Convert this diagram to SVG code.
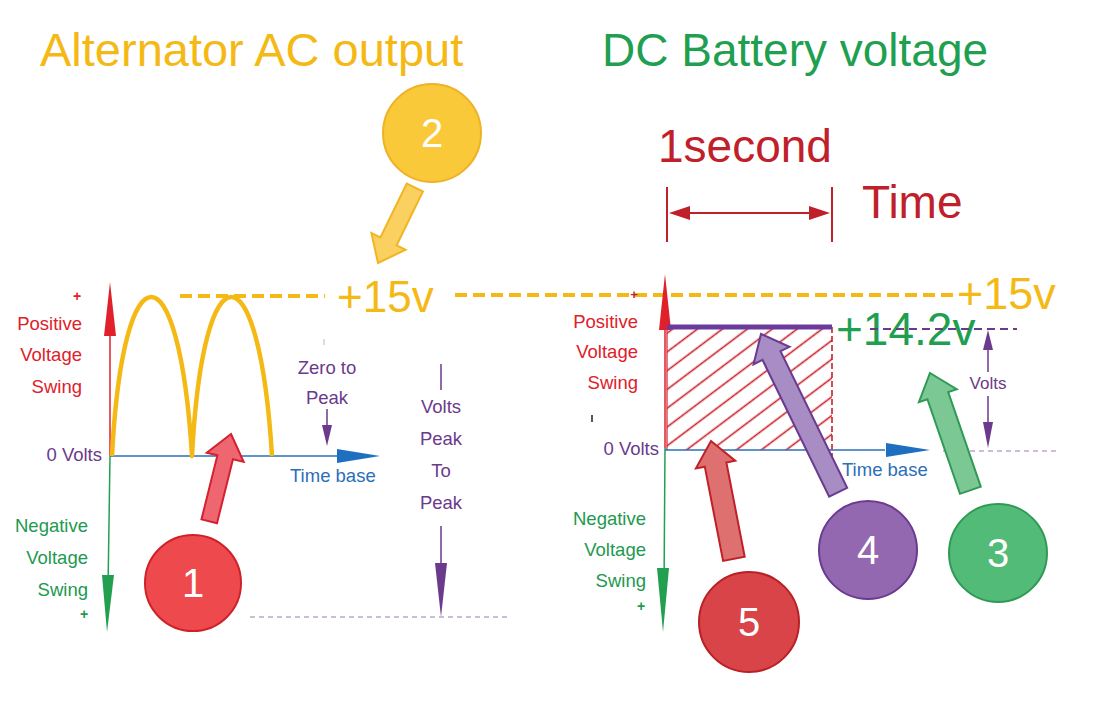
<svg xmlns="http://www.w3.org/2000/svg" width="1094" height="703" viewBox="0 0 1094 703">
<defs>
<style>
text{font-family:"Liberation Sans",Arial,sans-serif}
.title{font-size:46px}
.lbl{font-size:18.5px}
.red{fill:#E0202A}
.grn{fill:#22994F}
.pur{fill:#6B3A8C}
.blu{fill:#2A6FB8}
.num{font-size:40px;fill:#fff;text-anchor:middle}
.ydash{stroke:#F5B915;stroke-width:4;stroke-dasharray:12,6;fill:none}
.gdash{stroke:#9A7AAE;stroke-width:1.2;stroke-dasharray:5,4;fill:none}
</style>
<pattern id="hatch" patternUnits="userSpaceOnUse" width="20" height="15" patternTransform="rotate(-37)">
<line x1="0" y1="7.5" x2="20" y2="7.5" stroke="#C8202A" stroke-width="1.6"/>
</pattern>
</defs>
<rect width="1094" height="703" fill="#fff"/>

<g id="titles">
<text x="40" y="66" class="title" font-size="47" style="font-size:47px" fill="#F5B915">Alternator AC output</text>
<text x="602" y="66" class="title" fill="#1FA050">DC Battery voltage</text>
</g>

<g id="left-chart">
<line x1="110" y1="330" x2="110" y2="456" stroke="#E0202A" stroke-width="1.5"/>
<polygon points="110,282 116,336 104,336" fill="#E0202A"/>
<line x1="110" y1="456" x2="108" y2="590" stroke="#22A050" stroke-width="1.5"/>
<polygon points="107,632 114,575 102,575" fill="#22A050"/>
<line x1="110" y1="456" x2="340" y2="456" stroke="#2A6FB8" stroke-width="1.5"/>
<polygon points="380,456 337,449 337,463" fill="#1F6FC0"/>
<path d="M112,456 C123,244 179,244 192,456 C203,244 259,244 272,456" fill="none" stroke="#F5B915" stroke-width="4.5" stroke-linejoin="round"/>
<text x="77" y="301" class="red" font-size="14" font-weight="bold" text-anchor="middle">+</text>
<text x="82" y="330" class="lbl red" text-anchor="end">Positive</text>
<text x="82" y="361" class="lbl red" text-anchor="end">Voltage</text>
<text x="82" y="393" class="lbl red" text-anchor="end">Swing</text>
<text x="102" y="461" class="lbl pur" text-anchor="end">0 Volts</text>
<text x="88" y="532" class="lbl grn" text-anchor="end">Negative</text>
<text x="88" y="564" class="lbl grn" text-anchor="end">Voltage</text>
<text x="88" y="596" class="lbl grn" text-anchor="end">Swing</text>
<text x="84" y="619" class="grn" font-size="14" font-weight="bold" text-anchor="middle">+</text>
<text x="290" y="482" class="lbl blu">Time base</text>
<line x1="324" y1="339" x2="324" y2="345" stroke="#bbb" stroke-width="1"/>
<text x="327" y="374" class="lbl pur" text-anchor="middle">Zero to</text>
<text x="327" y="404" class="lbl pur" text-anchor="middle">Peak</text>
<line x1="327" y1="409" x2="327" y2="430" stroke="#6B3A8C" stroke-width="1.5"/>
<polygon points="327,446 322,425 332,425" fill="#6B3A8C"/>
<line x1="441" y1="364" x2="441" y2="390" stroke="#6B3A8C" stroke-width="1.5"/>
<text x="441" y="413" class="lbl pur" text-anchor="middle">Volts</text>
<text x="441" y="445" class="lbl pur" text-anchor="middle">Peak</text>
<text x="441" y="477" class="lbl pur" text-anchor="middle">To</text>
<text x="441" y="509" class="lbl pur" text-anchor="middle">Peak</text>
<line x1="441" y1="526" x2="441" y2="570" stroke="#6B3A8C" stroke-width="1.5"/>
<polygon points="441,617 435,563 447,563" fill="#6B3A8C"/>
<line x1="250" y1="617" x2="510" y2="617" class="gdash"/>
</g>

<g id="levels">
<line x1="180" y1="296" x2="325" y2="296" class="ydash"/>
<text x="337" y="312" font-size="44" fill="#F5B915">+15v</text>
<line x1="455" y1="295" x2="955" y2="295" class="ydash"/>
<text x="957" y="309" font-size="45" fill="#F5B915">+15v</text>
</g>

<g id="right-chart">
<rect x="667" y="327" width="165" height="123" fill="url(#hatch)"/>
<line x1="667" y1="327" x2="667" y2="450" stroke="#D02030" stroke-width="1.2"/>
<line x1="832" y1="327" x2="832" y2="482" stroke="#C8202A" stroke-width="1.6" stroke-dasharray="6,3"/>
<line x1="665" y1="327" x2="665" y2="448" stroke="#E0202A" stroke-width="1.5"/>
<polygon points="665,274 671,330 659,330" fill="#E0202A"/>
<line x1="665" y1="448" x2="664" y2="590" stroke="#22A050" stroke-width="1.5"/>
<polygon points="663,632 669,568 657,568" fill="#22A050"/>
<line x1="665" y1="450" x2="885" y2="450" stroke="#2A6FB8" stroke-width="1.5"/>
<polygon points="930,450 886,443 886,457" fill="#1F6FC0"/>
<line x1="943" y1="451" x2="1057" y2="451" class="gdash"/>
<line x1="667" y1="327" x2="832" y2="327" stroke="#6B3A9C" stroke-width="5"/>
<text x="836" y="345" font-size="46" fill="#1FA050">+14.2v</text>
<line x1="870" y1="329" x2="1017" y2="329" stroke="#6B3A8C" stroke-width="1.8" stroke-dasharray="8,5"/>
<text x="634" y="299" fill="#C02030" font-size="13" font-weight="bold" text-anchor="middle">+</text>
<text x="638" y="328" class="lbl red" text-anchor="end">Positive</text>
<text x="638" y="358" class="lbl red" text-anchor="end">Voltage</text>
<text x="638" y="389" class="lbl red" text-anchor="end">Swing</text>
<line x1="592" y1="415" x2="592" y2="422" stroke="#222" stroke-width="1.5"/>
<text x="659" y="455" class="lbl pur" text-anchor="end">0 Volts</text>
<text x="646" y="525" class="lbl grn" text-anchor="end">Negative</text>
<text x="646" y="556" class="lbl grn" text-anchor="end">Voltage</text>
<text x="646" y="587" class="lbl grn" text-anchor="end">Swing</text>
<text x="641" y="611" class="grn" font-size="14" font-weight="bold" text-anchor="middle">+</text>
<text x="842" y="476" class="lbl blu">Time base</text>
<line x1="988" y1="345" x2="988" y2="372" stroke="#6B3A8C" stroke-width="1.5"/>
<polygon points="988,330 983,350 993,350" fill="#6B3A8C"/>
<text x="988" y="389" font-size="17" class="pur" text-anchor="middle">Volts</text>
<line x1="988" y1="396" x2="988" y2="425" stroke="#6B3A8C" stroke-width="1.5"/>
<polygon points="988,448 983,422 993,422" fill="#6B3A8C"/>
</g>

<g id="time-dimension">
<text x="658" y="162" font-size="46" fill="#C0202A">1second</text>
<line x1="667" y1="187" x2="667" y2="242" stroke="#C0202A" stroke-width="2"/>
<line x1="832" y1="187" x2="832" y2="242" stroke="#C0202A" stroke-width="2"/>
<line x1="685" y1="213" x2="815" y2="213" stroke="#C0202A" stroke-width="2"/>
<polygon points="669,213 690,206 690,220" fill="#C0202A"/>
<polygon points="830,213 809,206 809,220" fill="#C0202A"/>
<text x="862" y="218" font-size="46" fill="#C0202A">Time</text>
</g>

<g id="connectors">
<polygon transform="translate(231,434) rotate(14)" points="0,0 19,24 8,24 8,90 -8,90 -8,24 -19,24" fill="#EE6670" stroke="#D42030" stroke-width="2" stroke-linejoin="miter"/>
<polygon transform="translate(378,263) rotate(-154)" points="0,0 19,24 9,24 9,84 -9,84 -9,24 -19,24" fill="#FAD060" stroke="#F0B520" stroke-width="2"/>
<polygon transform="translate(930,373) rotate(-19)" points="0,0 20,24 11,24 11,124 -11,124 -11,24 -20,24" fill="#7CC894" stroke="#2E9A55" stroke-width="2"/>
<polygon transform="translate(761,334) rotate(-26)" points="0,0 20,24 10,24 10,176 -10,176 -10,24 -20,24" fill="#A88CC4" stroke="#6A3A90" stroke-width="2"/>
<polygon transform="translate(711,441) rotate(-11)" points="0,0 20,24 11,24 11,120 -11,120 -11,24 -20,24" fill="#DE7070" stroke="#C02028" stroke-width="2"/>
</g>

<g id="badge-1">
<circle cx="193" cy="583" r="48" fill="#EE4A4E" stroke="#D02028" stroke-width="2"/>
<text x="193" y="597" class="num">1</text>
</g>
<g id="badge-2">
<circle cx="432" cy="133" r="49" fill="#F9C93A" stroke="#EDB225" stroke-width="2"/>
<text x="432" y="147" class="num">2</text>
</g>
<g id="badge-3">
<circle cx="998" cy="553" r="49" fill="#52BB78" stroke="#2E9A55" stroke-width="2"/>
<text x="998" y="567" class="num">3</text>
</g>
<g id="badge-4">
<circle cx="868" cy="550" r="49" fill="#9468B0" stroke="#6A3A90" stroke-width="2"/>
<text x="868" y="564" class="num">4</text>
</g>
<g id="badge-5">
<circle cx="749" cy="622" r="50" fill="#D84448" stroke="#B82025" stroke-width="2"/>
<text x="749" y="636" class="num">5</text>
</g>
</svg>
